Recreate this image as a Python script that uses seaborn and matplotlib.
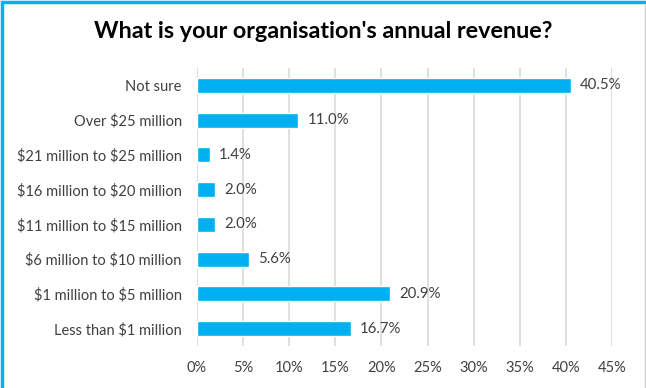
import matplotlib
matplotlib.use("Agg")
import matplotlib.pyplot as plt
from matplotlib.lines import Line2D
from matplotlib.ticker import PercentFormatter
import seaborn as sns
import pandas as pd

categories = [
    "Not sure",
    "Over $25 million",
    "$21 million to $25 million",
    "$16 million to $20 million",
    "$11 million to $15 million",
    "$6 million to $10 million",
    "$1 million to $5 million",
    "Less than $1 million",
]
values = [40.5, 11.0, 1.4, 2.0, 2.0, 5.6, 20.9, 16.7]
x_ticks = [0, 5, 10, 15, 20, 25, 30, 35, 40, 45]
title = "What is your organisation's annual revenue?"

sns.set_theme(style="white")
plt.rcParams["font.family"] = ["Lato", "DejaVu Sans"]
plt.rcParams["text.color"] = "#404040"
plt.rcParams["text.parse_math"] = False

df = pd.DataFrame({"category": categories, "value": values})

fig = plt.figure(figsize=(6.46, 3.88), dpi=100)
ax = fig.add_axes([197 / 646, 1 - 346 / 388, (612 - 197) / 646, (346 - 68) / 388])

sns.barplot(data=df, x="value", y="category", order=categories,
            color="#00B0F0", saturation=1, width=0.43, ax=ax, orient="h")

ax.set_xlim(0, 45)
ax.set_ylim(7.5, -0.5)
ax.set_xticks(x_ticks)
ax.xaxis.set_major_formatter(PercentFormatter(decimals=0))
ax.grid(axis="x", color="#D9D9D9", linewidth=1.2)
ax.set_axisbelow(True)
for s in ax.spines.values():
    s.set_visible(False)
ax.set_xlabel("")
ax.set_ylabel("")
ax.tick_params(axis="y", length=0, pad=11, labelsize=10.5, labelcolor="#404040")
ax.tick_params(axis="x", length=0, pad=11, labelsize=10.5, labelcolor="#404040")

for i, v in enumerate(values):
    ax.text(v + 1.0, i, f"{v:.1f}%", va="center", ha="left",
            fontsize=10.8, color="#404040")

fig.text(0.5, 1 - 32 / 388, title, ha="center", va="center",
         fontsize=16.8, fontweight="bold", color="#000000")

# frame around the chart area
fig.add_artist(Line2D([0.003, 0.003], [0, 0.995], transform=fig.transFigure,
                      color="#00B0F0", linewidth=2.5))
fig.add_artist(Line2D([0.003, 1], [0.995, 0.995], transform=fig.transFigure,
                      color="#00B0F0", linewidth=2.5))
fig.add_artist(Line2D([0.998, 0.998], [0, 0.99], transform=fig.transFigure,
                      color="#D0D0D0", linewidth=1))

fig.savefig("out.png", dpi=100)
